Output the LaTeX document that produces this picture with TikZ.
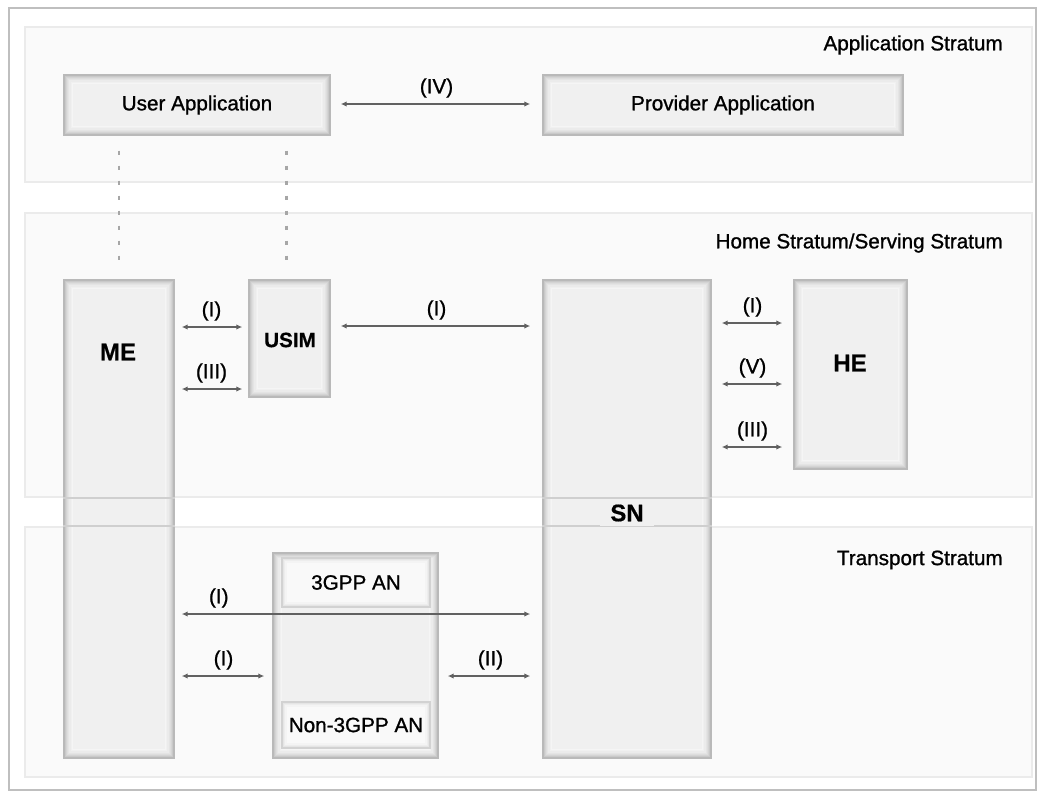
\documentclass[tikz,border=0pt]{standalone}
\usepackage{fontspec}
\setmainfont{Liberation Sans}[FakeBold=1.1, BoldFeatures={FakeBold=0.6}]
\usetikzlibrary{arrows.meta,fit,calc}

\definecolor{boxfill}{gray}{0.94}
\definecolor{bandfill}{gray}{0.982}

\tikzset{
  band/.style={draw=gray!16, line width=1.2pt, fill=bandfill, inner sep=0pt},
  box/.style={draw=gray!55, line width=1pt, fill=boxfill, inner sep=0pt,
    path picture={
      \foreach \d/\c in {0.9/42,1.8/34,2.7/27,3.6/21,4.5/16,5.4/12,6.3/8}{
        \draw[gray!\c, line width=1pt]
          ([shift={(\d pt,\d pt)}]path picture bounding box.south west) rectangle
          ([shift={(-\d pt,-\d pt)}]path picture bounding box.north east);
      }
    }},
  subbox/.style={draw=gray!35, line width=0.8pt, fill=gray!5, inner sep=0pt,
    path picture={
      \foreach \d/\c in {1/20,2/14,3/9}{
        \draw[gray!\c, line width=1pt]
          ([shift={(\d pt,\d pt)}]path picture bounding box.south west) rectangle
          ([shift={(-\d pt,-\d pt)}]path picture bounding box.north east);
      }
    }},
  txt/.style={inner sep=0pt, font=\fontsize{15.5}{18}\selectfont},
  big/.style={inner sep=0pt, font=\fontsize{18}{21}\bfseries\selectfont},
  mid/.style={inner sep=0pt, font=\fontsize{15.5}{18}\bfseries\selectfont},
  conn/.style={{Latex[length=4.5pt,width=4pt]}-{Latex[length=4.5pt,width=4pt]},
    draw=black!62, line width=1.3pt},
  lbl/.style={txt, yshift=12pt, text=black},
  dots/.style={draw=gray!70, line width=1.7pt, dash pattern=on 3.5pt off 7.75pt},
  edge/.style={draw=gray!38, line width=1.8pt},
}

\begin{document}
\begin{tikzpicture}[x=0.75pt, y=-0.75pt]
  \useasboundingbox (0,0) rectangle (1038,792);
  \fill[white] (0,0) rectangle (1038,792);
  \draw[gray!50, line width=1.3pt] (9,8) rectangle (1036,790);

  % strata bands
  \node[band, fit={(25,27) (1032,182)}] (appband) {};
  \node[band, fit={(25,213) (1032,497)}] (homeband) {};
  \node[band, fit={(25,527) (1032,777)}] (trband) {};

  \node[txt, anchor=east] (appT) at (1003,45) {Application Stratum};
  \node[txt, anchor=east] (homeT) at (1003,243) {Home Stratum/Serving Stratum};
  \node[txt, anchor=east] (trT) at (1003,560) {Transport Stratum};

  % application stratum
  \node[box, fit={(64,75) (330,135)}] (ua) {};
  \node[box, fit={(543,75) (903,135)}] (pa) {};
  \node[txt] (uaT) at (ua.center) {User Application};
  \node[txt] (paT) at (pa.center) {Provider Application};

  % entities
  \node[box, fit={(64,280) (174,758)}] (me) {};
  \node[box, fit={(249,280) (330,397)}] (usim) {};
  \node[box, fit={(543,280) (711,758)}] (sn) {};
  \node[box, fit={(794,280) (907,469)}] (he) {};
  \node[box, fit={(273,553) (438,758)}] (an) {};
  \node[subbox, fit={(282,558) (430,607)}] (g3) {};
  \node[subbox, fit={(282,702) (430,748)}] (ng3) {};
  \node[txt] (g3T) at (g3.center) {3GPP AN};
  \node[txt] (ng3T) at (ng3.center) {Non-3GPP AN};

  % band edges crossing the long columns
  \draw[edge] (homeband.south -| me.west) -- (homeband.south -| me.east);
  \draw[edge] (trband.north -| me.west) -- (trband.north -| me.east);
  \draw[edge] (homeband.south -| sn.west) -- (homeband.south -| sn.east);
  \draw[edge] (trband.north -| sn.west) -- (trband.north -| sn.east);

  \node[big] (meT) at (118,352) {ME};
  \node[mid] (usimT) at (290,340) {USIM};
  \node[big] (heT) at (850,363) {HE};
  \node[big, fill=boxfill, inner xsep=8pt, inner ysep=3pt] (snT) at (627,513) {SN};

  % user application spans ME and USIM
  \draw[dots] ($(ua.south -| me.north)+(0,15)$) -- ($(me.north)+(0,-12)$);
  \draw[dots] ($(ua.south -| usim.north)+(-3,15)$) -- ($(usim.north)+(-3,-12)$);

  % rows of the connectors
  \coordinate (rIV) at (0,104);
  \coordinate (rA) at (0,327);
  \coordinate (rB) at (0,389);
  \coordinate (rC) at (0,326);
  \coordinate (rH1) at (0,323);
  \coordinate (rH2) at (0,384);
  \coordinate (rH3) at (0,447);
  \coordinate (rT1) at (0,614);
  \coordinate (rT2) at (0,676);

  \draw[conn, shorten <=7.5pt, shorten >=9pt] (ua.east |- rIV) -- (pa.west |- rIV)
    node[lbl, midway] (lIV) {(IV)};
  \draw[conn, shorten <=5.25pt, shorten >=4.5pt] (me.east |- rA) -- (usim.west |- rA)
    node[lbl, midway] (lA) {(I)};
  \draw[conn, shorten <=5.25pt, shorten >=4.5pt] (me.east |- rB) -- (usim.west |- rB)
    node[lbl, midway] (lB) {(III)};
  \draw[conn, shorten <=7.5pt, shorten >=9pt] (usim.east |- rC) -- (sn.west |- rC)
    node[lbl, midway] (lC) {(I)};
  \draw[conn, shorten <=7.5pt, shorten >=8.25pt] (sn.east |- rH1) -- (he.west |- rH1)
    node[lbl, midway] (lH1) {(I)};
  \draw[conn, shorten <=7.5pt, shorten >=8.25pt] (sn.east |- rH2) -- (he.west |- rH2)
    node[lbl, midway] (lH2) {(V)};
  \draw[conn, shorten <=7.5pt, shorten >=8.25pt] (sn.east |- rH3) -- (he.west |- rH3)
    node[lbl, midway] (lH3) {(III)};
  \draw[conn, shorten <=5.25pt, shorten >=9pt] (me.east |- rT1) -- (sn.west |- rT1)
    node[lbl, pos=0.12] (lT1) {(I)};
  \draw[conn, shorten <=5.25pt, shorten >=6pt] (me.east |- rT2) -- (an.west |- rT2)
    node[lbl, midway] (lT2) {(I)};
  \draw[conn, shorten <=6.75pt, shorten >=9pt] (an.east |- rT2) -- (sn.west |- rT2)
    node[lbl, midway] (lT3) {(II)};
\end{tikzpicture}
\end{document}
